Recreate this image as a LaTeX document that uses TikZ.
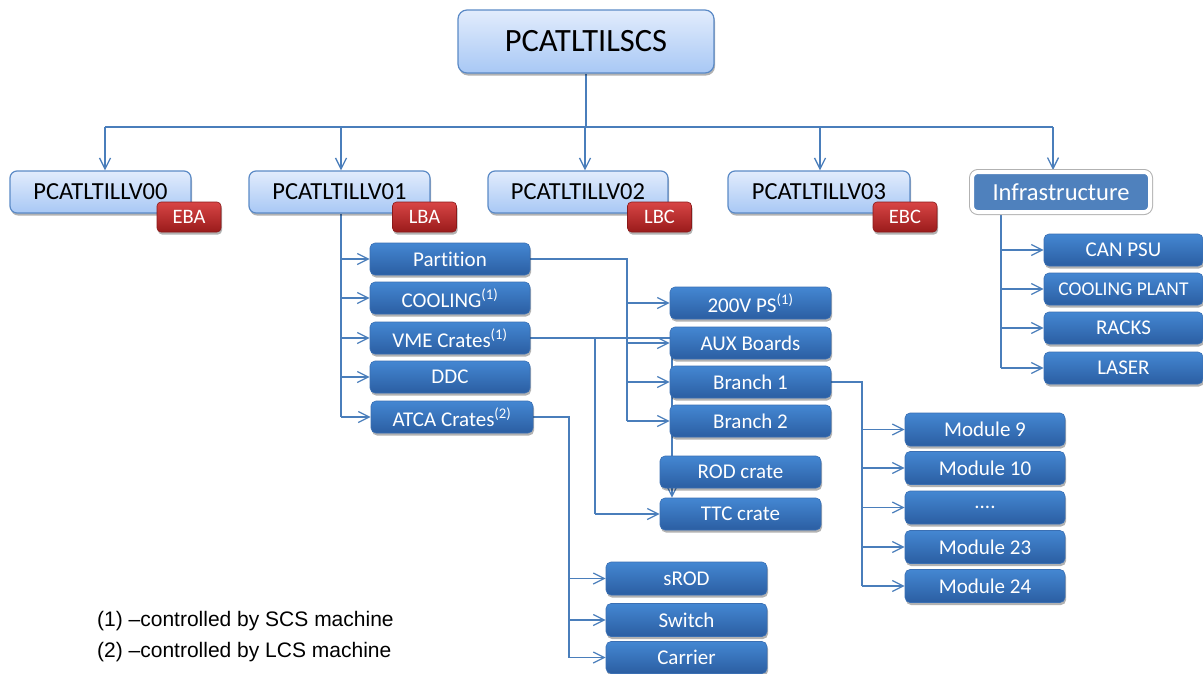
\documentclass[tikz,border=0pt]{standalone}
\usepackage{fontspec}
\setmainfont{Carlito}[Ligatures={NoCommon}]
\newfontfamily\legendfont{Liberation Sans}
\usetikzlibrary{arrows.meta,shadows,backgrounds}
\definecolor{linec}{HTML}{4A7EBB}
\definecolor{ltop}{HTML}{E2ECFC}
\definecolor{lbot}{HTML}{A8C8F5}
\definecolor{lborder}{HTML}{5B8AC6}
\definecolor{dtop}{HTML}{4487D2}
\definecolor{dbot}{HTML}{2B5EA2}
\definecolor{dborder}{HTML}{3A6FB3}
\definecolor{rtop}{HTML}{D84545}
\definecolor{rbot}{HTML}{9A1B1B}
\definecolor{rborder}{HTML}{8A1A1A}
\definecolor{infrafill}{HTML}{4F81BD}
\begin{document}
\begin{tikzpicture}[x=1pt,y=-1pt,
  conn/.style={draw=linec, line width=1.5pt},
  arr/.style={conn, -{Straight Barb[length=11pt,width=11pt,line width=1.3pt]}},
  shd/.style={drop shadow={shadow xshift=1pt, shadow yshift=-2.5pt, opacity=0.3, fill=black}},
  lbox/.style={shd, rounded corners=7pt, draw=lborder, line width=1.2pt, top color=ltop, bottom color=lbot,
    minimum height=42pt, inner sep=0pt, font=\fontsize{24.5}{27}\selectfont},
  dbox/.style={shd, rounded corners=5pt, draw=dborder, line width=0.6pt, top color=dtop, bottom color=dbot,
    minimum width=160pt, minimum height=32pt, inner sep=0pt, text=white, font=\fontsize{21}{24}\selectfont},
  badge/.style={shd, rounded corners=4pt, draw=rborder, line width=0.6pt, top color=rtop, bottom color=rbot,
    minimum width=64pt, minimum height=30pt, inner sep=0pt, text=white, font=\fontsize{20.5}{23}\selectfont},
  legend/.style={anchor=west, inner sep=0pt, font=\legendfont\fontsize{21}{24}\selectfont}
]
\useasboundingbox (0,0) rectangle (1203,673);

% top level
\node[lbox, minimum width=256pt, minimum height=63pt, rounded corners=9pt, font=\fontsize{32.5}{36}\selectfont] (top) at (586,41.5) {PCATLTILSCS};

% second level
\node[lbox, minimum width=181pt] (v00) at (100.5,192) {PCATLTILLV00};
\node[lbox, minimum width=181pt] (v01) at (339.5,192) {PCATLTILLV01};
\node[lbox, minimum width=180pt] (v02) at (578,192) {PCATLTILLV02};
\node[lbox, minimum width=182pt] (v03) at (819,192) {PCATLTILLV03};
\node[badge] (eba) at (189,217) {EBA};
\node[badge] (lba) at (424.5,217) {LBA};
\node[badge] (lbc) at (659.5,217) {LBC};
\node[badge] (ebc) at (905,217) {EBC};
\node[shd, preaction={draw=black!30, line width=6pt, rounded corners=6pt}, draw=white, line width=4pt, fill=infrafill, rounded corners=6pt,
  minimum width=178pt, minimum height=40pt, inner sep=0pt, text=white, font=\fontsize{24.5}{27}\selectfont] (infra) at (1061,192) {Infrastructure};

% LBA children
\node[dbox] (part) at (450,259) {Partition};
\node[dbox] (cool) at (450,298) {COOLING\textsuperscript{(1)}};
\node[dbox] (vme) at (450,338) {VME Crates\textsuperscript{(1)}};
\node[dbox] (ddc) at (450,377) {DDC};
\node[dbox, minimum width=162pt] (atca) at (452,417) {ATCA Crates\textsuperscript{(2)}};

% partition children
\node[dbox, minimum width=161pt] (ps) at (750.5,303) {200V PS\textsuperscript{(1)}};
\node[dbox, minimum width=161pt] (aux) at (750.5,343) {AUX Boards};
\node[dbox, minimum width=161pt] (br1) at (750.5,382) {Branch 1};
\node[dbox, minimum width=161pt] (br2) at (750.5,421) {Branch 2};
\node[dbox, minimum width=161pt] (rod) at (740.5,472) {ROD crate};
\node[dbox, minimum width=161pt] (ttc) at (740.5,514) {TTC crate};

% modules
\node[dbox, minimum height=33pt] (m9) at (985,429.5) {Module 9};
\node[dbox, minimum height=33pt] (m10) at (985,468) {Module 10};
\node[dbox, minimum height=33pt] (mdots) at (985,507.5) {....};
\node[dbox, minimum height=33pt] (m23) at (985,547) {Module 23};
\node[dbox, minimum height=33pt] (m24) at (985,586) {Module 24};

% infrastructure children
\node[dbox, minimum width=159pt] (can) at (1123.5,250) {CAN PSU};
\node[dbox, minimum width=159pt, font=\fontsize{19.5}{22}\selectfont] (cplant) at (1123.5,289) {COOLING PLANT};
\node[dbox, minimum width=159pt] (racks) at (1123.5,328) {RACKS};
\node[dbox, minimum width=159pt] (laser) at (1123.5,368) {LASER};

% ATCA children
\node[dbox, minimum width=161pt, minimum height=33pt] (srod) at (686.5,578.5) {sROD};
\node[dbox, minimum width=161pt, minimum height=33pt] (switch) at (686.5,620) {Switch};
\node[dbox, minimum width=161pt, minimum height=32pt] (carrier) at (686.5,657.5) {Carrier};

% legend
\node[legend] (leg1) at (97,621) {(1) –controlled by SCS machine};
\node[legend] (leg2) at (97,652) {(2) –controlled by LCS machine};

\begin{scope}[on background layer]
  \coordinate (bL) at (105,127);
  \coordinate (bR) at (1053,127);
  \coordinate (b1) at (341,127);
  \coordinate (b2) at (585,127);
  \coordinate (b3) at (820,127);
  \draw[conn] (top.south) -- (top.south |- bL);
  \draw[conn] (bL) -- (bR);
  \draw[arr] (bL) -- (bL |- v00.north);
  \draw[arr] (b1) -- (b1 |- v01.north);
  \draw[arr] (b2) -- (b2 |- v02.north);
  \draw[arr] (b3) -- (b3 |- v03.north);
  \draw[arr] (bR) -- (bR |- infra.north);

  % LBA trunk
  \draw[conn] (b1 |- v01.south) -- (b1 |- atca.west);
  \foreach \n in {part,cool,vme,ddc,atca} \draw[arr] (b1 |- \n.west) -- (\n.west);

  % Partition
  \coordinate (pj) at (627,0);
  \draw[conn] (part.east) -- (pj |- part.east) -- (pj |- br2.west);
  \foreach \n in {ps,aux,br1,br2} \draw[arr] (pj |- \n.west) -- (\n.west);

  % VME crates
  \coordinate (vj) at (595,0);
  \coordinate (vk) at (672,0);
  \draw[conn] (vme.east) -- (vk |- vme.east);
  \draw[arr, line width=1.2pt] (vk |- vme.east) -- (vk |- ttc.north);
  \draw[conn] (vj |- vme.east) -- (vj |- ttc.west);
  \draw[arr] (vj |- ttc.west) -- (ttc.west);

  % Branch 1
  \coordinate (mj) at (862,0);
  \draw[conn] (br1.east) -- (mj |- br1.east) -- (mj |- m24.west);
  \foreach \n in {m9,m10,mdots,m23,m24} \draw[arr] (mj |- \n.west) -- (\n.west);

  % ATCA
  \coordinate (aj) at (569,0);
  \draw[conn] (atca.east) -- (aj |- atca.east) -- (aj |- carrier.west);
  \foreach \n in {srod,switch,carrier} \draw[arr] (aj |- \n.west) -- (\n.west);

  % Infrastructure
  \coordinate (ij) at (1001,0);
  \draw[conn] (ij |- infra.south) -- (ij |- laser.west);
  \foreach \n in {can,cplant,racks,laser} \draw[arr] (ij |- \n.west) -- (\n.west);
\end{scope}
\end{tikzpicture}
\end{document}
